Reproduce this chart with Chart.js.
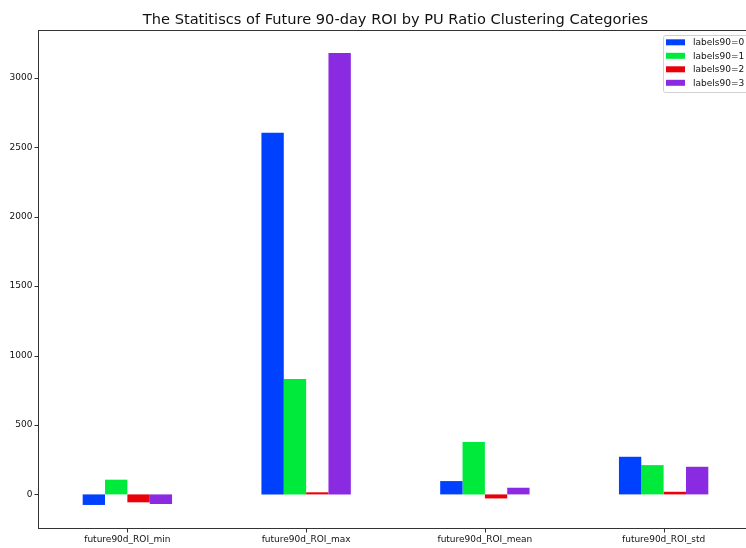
<!DOCTYPE html>
<html>
<head>
<meta charset="utf-8">
<script src="https://cdn.jsdelivr.net/npm/chart.js@4/dist/chart.umd.min.js"></script>
<style>
html,body{margin:0;padding:0;background:#fff;overflow:hidden;width:746px;height:548px;}
canvas{display:block;}
</style>
</head>
<body>
<canvas id="c" width="754" height="548"></canvas>
<script>
const titleText = 'The Statitiscs of Future 90-day ROI by PU Ratio Clustering Categories';
const categories = ['future90d_ROI_min', 'future90d_ROI_max', 'future90d_ROI_mean', 'future90d_ROI_std'];
const seriesNames = ['labels90=0', 'labels90=1', 'labels90=2', 'labels90=3'];
const labels90_0 = [-76, 2605, 96, 271];
const labels90_1 = [106, 832, 377, 211];
const labels90_2 = [-57, 15, -29, 19];
const labels90_3 = [-69, 3180, 48, 199];
const yTicks = [0, 500, 1000, 1500, 2000, 2500, 3000];
const colors = ['#0040ff', '#00ea3c', '#e8000b', '#8a2be2'];

const FONT = 'DejaVu Sans';

const framePlugin = {
  id: 'frame',
  afterDraw(chart) {
    const ctx = chart.ctx, a = chart.chartArea;
    const xs = chart.scales.x, ys = chart.scales.y;
    ctx.save();
    ctx.strokeStyle = '#333';
    ctx.lineWidth = 1;
    const L = Math.round(a.left) + 0.5, T = Math.round(a.top) + 0.5, B = Math.round(a.bottom) + 0.5;
    ctx.strokeRect(L, T, Math.round(a.right - a.left), Math.round(a.bottom - a.top));
    // ticks
    ctx.beginPath();
    yTicks.forEach(v => {
      const y = Math.round(ys.getPixelForValue(v)) + 0.5;
      ctx.moveTo(L - 4, y); ctx.lineTo(L, y);
    });
    categories.forEach((c, i) => {
      const x = Math.round(xs.getPixelForValue(i)) + 0.5;
      ctx.moveTo(x, B); ctx.lineTo(x, B + 4);
    });
    ctx.stroke();
    ctx.fillStyle = '#111';
    ctx.font = '9px "' + FONT + '"';
    ctx.textAlign = 'right';
    ctx.textBaseline = 'middle';
    yTicks.forEach(v => {
      ctx.fillText(String(v), L - 6, ys.getPixelForValue(v));
    });
    ctx.textAlign = 'center';
    ctx.textBaseline = 'top';
    categories.forEach((c, i) => {
      ctx.fillText(c, xs.getPixelForValue(i), B + 7);
    });
    // title
    ctx.font = '14.6px "' + FONT + '"';
    ctx.textAlign = 'center';
    ctx.textBaseline = 'alphabetic';
    ctx.fillText(titleText, (a.left + a.right) / 2, 24);
    // legend
    const ds = chart.data.datasets;
    const bx = 663, by = 35, bw = 100, bh = 57;
    ctx.fillStyle = 'rgba(255,255,255,0.8)';
    ctx.strokeStyle = '#d0d0d0';
    ctx.beginPath();
    if (ctx.roundRect) ctx.roundRect(bx + 0.5, by + 0.5, bw, bh, 2); else ctx.rect(bx + 0.5, by + 0.5, bw, bh);
    ctx.fill(); ctx.stroke();
    ctx.font = '9px "' + FONT + '"';
    ctx.textAlign = 'left';
    ctx.textBaseline = 'middle';
    ds.forEach((d, i) => {
      const cy = 42.3 + i * 13.5;
      ctx.fillStyle = d.backgroundColor;
      ctx.fillRect(666, cy - 3, 19, 6);
      ctx.fillStyle = '#111';
      ctx.fillText(d.label, 693, cy + 0.5);
    });
    ctx.restore();
  }
};

new Chart(document.getElementById('c'), {
  type: 'bar',
  data: {
    labels: categories,
    datasets: [labels90_0, labels90_1, labels90_2, labels90_3].map((vals, i) => ({
      label: seriesNames[i],
      data: vals,
      backgroundColor: colors[i],
      borderWidth: 0,
      categoryPercentage: 0.5,
      barPercentage: 1.0
    }))
  },
  options: {
    responsive: false,
    animation: false,
    devicePixelRatio: 1,
    layout: { padding: { top: 30, right: 1, left: 38, bottom: 20 } },
    plugins: {
      legend: { display: false },
      title: { display: false },
      tooltip: { enabled: false }
    },
    scales: {
      x: {
        offset: true,
        display: false
      },
      y: {
        min: -242,
        max: 3345,
        display: false
      }
    }
  },
  plugins: [framePlugin]
});
</script>
</body>
</html>
